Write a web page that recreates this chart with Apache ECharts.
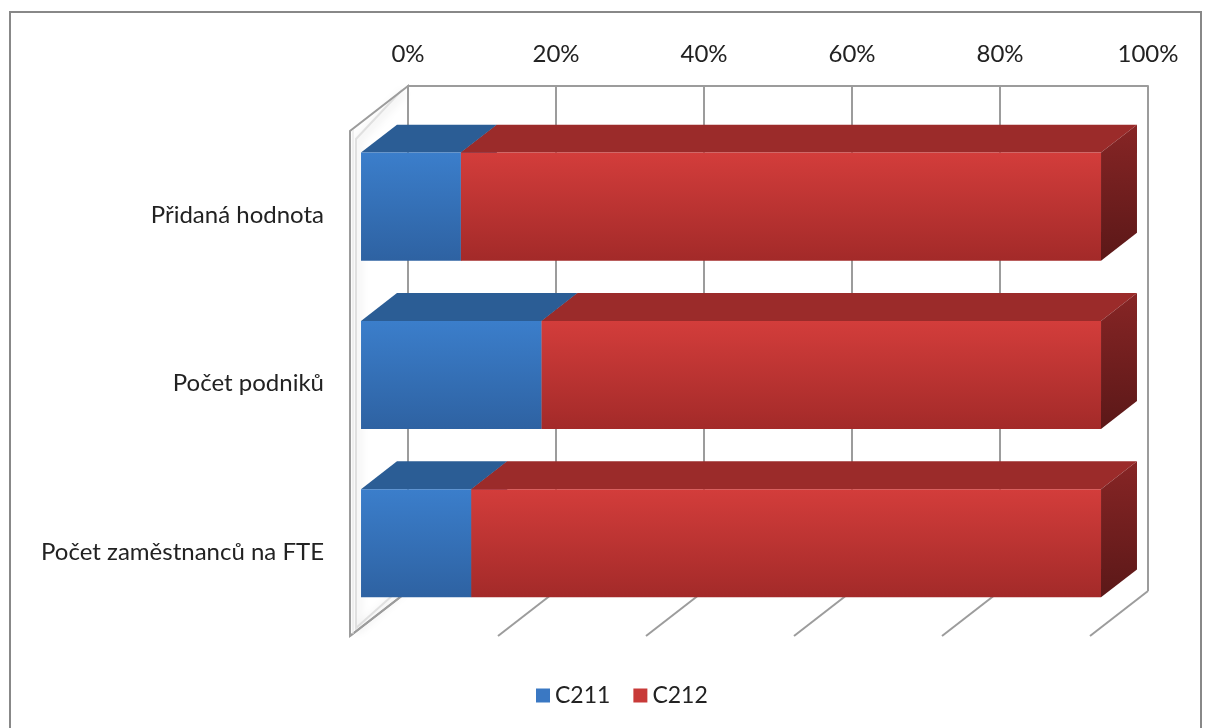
<!DOCTYPE html>
<html>
<head>
<meta charset="utf-8">
<script src="https://cdn.jsdelivr.net/npm/echarts@6/dist/echarts.min.js"></script>
<style>
  html, body { margin: 0; padding: 0; background: #fff; }
  #chart { width: 1210px; height: 728px; }
</style>
</head>
<body>
<div id="chart"></div>
<script>
// Categories (top to bottom) and the two series, in percent
const categories = ['Přidaná hodnota', 'Počet podniků', 'Počet zaměstnanců na FTE'];
const c211 = [13.5, 24.4, 14.9];
const c212 = [86.5, 75.6, 85.1];
const xTicks = [0, 20, 40, 60, 80, 100];

// Oblique projection: vector from the back wall to the front edge of the floor
const DEPTH = [-58, 45];
const BAR_BACK = 0.19;   // depth fraction where a bar's back face sits
const BAR_FRONT = 0.81;  // depth fraction where a bar's front face sits
const BAR_H = 0.642;     // bar thickness as a share of the category band
const FONT = 'Lato';

// 100 % stacking: each series as [start, end, categoryIndex]
const totals = c211.map((v, i) => v + c212[i]);
const c211Data = c211.map((v, i) => [0, v / totals[i] * 100, i]);
const c212Data = c212.map((v, i) => [c211[i] / totals[i] * 100, 100, i]);

function grad(top, bottom) {
  return { type: 'linear', x: 0, y: 0, x2: 0, y2: 1,
    colorStops: [{ offset: 0, color: top }, { offset: 1, color: bottom }] };
}

function barRenderer(front, topFace, side) {
  return function (params, api) {
    const s = api.value(0), e = api.value(1), ci = api.value(2);
    const p0 = api.coord([s, ci]);
    const p1 = api.coord([e, ci]);
    const h = api.size([0, 1])[1] * BAR_H;
    const fx = DEPTH[0] * BAR_FRONT, fy = DEPTH[1] * BAR_FRONT;
    const bx = DEPTH[0] * BAR_BACK, by = DEPTH[1] * BAR_BACK;
    const cy = p0[1];
    const fx0 = p0[0] + fx, fx1 = p1[0] + fx;
    const fyt = cy - h / 2 + fy, fyb = cy + h / 2 + fy;
    const bx0 = p0[0] + bx, bx1 = p1[0] + bx;
    const byt = cy - h / 2 + by, byb = cy + h / 2 + by;
    const children = [
      { type: 'polygon', shape: { points: [[fx0, fyt], [fx1, fyt], [bx1, byt], [bx0, byt]] },
        style: { fill: topFace } },
      { type: 'polygon', shape: { points: [[fx1, fyt], [bx1, byt], [bx1, byb], [fx1, fyb]] },
        style: { fill: grad(side[0], side[1]) } },
      { type: 'rect', shape: { x: fx0, y: fyt, width: fx1 - fx0, height: fyb - fyt },
        style: { fill: grad(front[0], front[1]) } }
    ];
    return { type: 'group', children: children };
  };
}

// Left wall and floor lines of the 3D frame
function frameRenderer(params, api) {
  const cs = params.coordSys;
  const top = cs.y, bottom = cs.y + cs.height;
  const x0 = api.coord([0, 0])[0];
  const dx = DEPTH[0], dy = DEPTH[1];
  const lineStyle = { stroke: '#9c9c9c', lineWidth: 2, fill: null };
  const children = [];
  xTicks.forEach(function (t) {
    const x = api.coord([t, 0])[0];
    children.push({ type: 'line', shape: { x1: x, y1: bottom, x2: x + dx, y2: bottom + dy },
      style: lineStyle });
  });
  // soft shading on the inner face of the left wall
  children.push({ type: 'polyline',
    shape: { points: [[x0 - 6, bottom - 4], [x0 + dx + 6, bottom + dy - 8], [x0 + dx + 6, top + dy + 8], [x0 - 6, top + 4]] },
    style: { stroke: 'rgba(200,200,200,0.5)', lineWidth: 2, fill: null,
      shadowBlur: 10, shadowColor: 'rgba(0,0,0,0.35)', shadowOffsetX: 2, shadowOffsetY: 2 } });
  children.push({ type: 'polygon',
    shape: { points: [[x0, top], [x0 + dx, top + dy], [x0 + dx, bottom + dy], [x0, bottom]] },
    style: { stroke: '#9c9c9c', lineWidth: 2, fill: null } });
  children.push({ type: 'line',
    shape: { x1: x0 + dx + 3, y1: top + dy - 1, x2: x0 + dx + 3, y2: bottom + dy - 2 },
    style: { stroke: '#e2e2e2', lineWidth: 1 } });
  return { type: 'group', children: children };
}

const chart = echarts.init(document.getElementById('chart'), null, { renderer: 'canvas' });
chart.setOption({
  backgroundColor: '#ffffff',
  animation: false,
  graphic: [{
    type: 'rect', left: 9, top: 11, z: -10,
    shape: { width: 1191, height: 730 },
    style: { fill: '#fff', stroke: '#888', lineWidth: 2 }
  }],
  legend: {
    left: 531, top: 679,
    itemWidth: 14, itemHeight: 14, itemGap: 23,
    icon: 'rect',
    textStyle: { fontFamily: FONT, fontSize: 23, color: '#222' },
    data: ['C211', 'C212']
  },
  grid: [
    { left: 408, right: 62, top: 86, bottom: 137 },   // back wall
    { left: 350, right: 120, top: 131, bottom: 92 }   // front plane, carries category labels
  ],
  xAxis: [{
    gridIndex: 0, type: 'value', position: 'top', min: 0, max: 100, interval: 20,
    axisLine: { show: true, lineStyle: { color: '#9c9c9c', width: 2 } },
    axisTick: { show: false },
    splitLine: { show: true, lineStyle: { color: '#9c9c9c', width: 2 } },
    axisLabel: { formatter: '{value}%', margin: 20, color: '#222', fontFamily: FONT, fontSize: 24 }
  }, {
    gridIndex: 1, type: 'value', min: 0, max: 100, show: false
  }],
  yAxis: [{
    gridIndex: 0, type: 'category', data: categories, inverse: true, show: false
  }, {
    gridIndex: 1, type: 'category', data: categories, inverse: true,
    axisLine: { show: false }, axisTick: { show: false },
    axisLabel: { margin: 26, color: '#222', fontFamily: FONT, fontSize: 24 }
  }],
  series: [{
    type: 'custom', name: 'frame', xAxisIndex: 0, yAxisIndex: 0, z: 1,
    silent: true, data: [[0, 0]], encode: { x: 0, y: 1 },
    renderItem: frameRenderer
  }, {
    type: 'custom', name: 'C211', xAxisIndex: 0, yAxisIndex: 0, z: 3,
    itemStyle: { color: '#3a78c3' },
    data: c211Data, encode: { x: [0, 1], y: 2 },
    renderItem: barRenderer(['#3b7ecb', '#2e62a2'], '#2b5d95', ['#244d7d', '#1b3a5f'])
  }, {
    type: 'custom', name: 'C212', xAxisIndex: 0, yAxisIndex: 0, z: 4,
    itemStyle: { color: '#c83a38' },
    data: c212Data, encode: { x: [0, 1], y: 2 },
    renderItem: barRenderer(['#d33d3b', '#a32a29'], '#9b2b2a', ['#872525', '#5b1818'])
  }]
});
</script>
</body>
</html>
